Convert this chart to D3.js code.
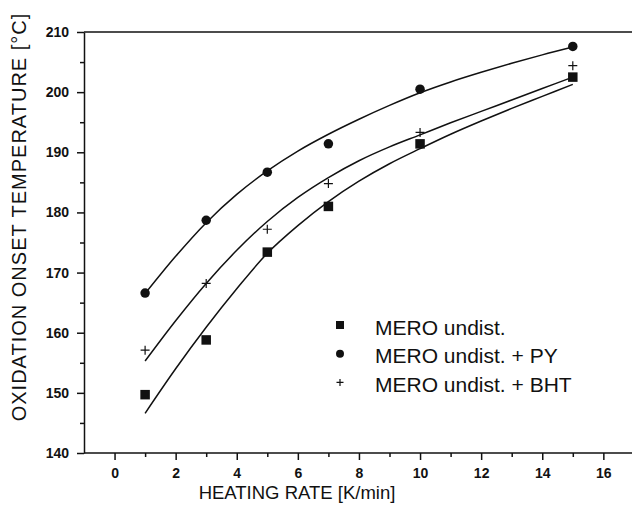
<!DOCTYPE html>
<html>
<head>
<meta charset="utf-8">
<script src="https://cdn.jsdelivr.net/npm/d3@7"></script>
<style>
  body { margin: 0; background: #fff; }
  svg { display: block; font-family: "Liberation Sans", Arial, sans-serif; }
  .axis text { font-size: 14px; font-weight: bold; fill: #111; }
  .axis path, .axis line { stroke: #111; stroke-width: 1.5px; }
</style>
</head>
<body>
<svg id="chart" width="632" height="517"></svg>
<script>
// measured points
var rates = [1, 3, 5, 7, 10, 15];
var meroUndist = [149.7, 158.8, 173.4, 181.0, 191.4, 202.5];
var meroPY = [166.6, 178.7, 186.7, 191.4, 200.5, 207.6];
var meroBHT = [157.1, 168.2, 177.2, 184.8, 193.3, 204.4];

// fitted curves
var fitRates = [1, 2, 3, 4, 5, 6, 7, 8, 9, 10, 11, 12, 13, 14, 15];
var fitUndist = [146.6, 154.0, 160.9, 167.3, 173.2, 177.8, 181.8, 185.2, 188.1, 190.6, 193.0, 195.2, 197.3, 199.3, 201.3];
var fitBHT = [155.3, 162.0, 168.2, 173.7, 178.5, 182.5, 185.8, 188.6, 190.9, 192.9, 194.9, 196.8, 198.7, 200.6, 202.5];
var fitPY = [166.5, 172.7, 178.3, 183.0, 186.9, 190.2, 193.0, 195.5, 197.8, 199.9, 201.7, 203.3, 204.8, 206.2, 207.5];

var xTicks = [0, 2, 4, 6, 8, 10, 12, 14, 16];
var yTicks = [140, 150, 160, 170, 180, 190, 200, 210];
var legendLabels = ["MERO undist.", "MERO undist. + PY", "MERO undist. + BHT"];

var svg = d3.select("#chart");

var x = d3.scaleLinear().domain([-1, 18]).range([84, 84 + 19 * 30.55]);
var y = d3.scaleLinear().domain([140, 210]).range([453, 32]);

var g = svg.append("g");

// top border
g.append("line")
  .attr("x1", x(-1)).attr("x2", 640)
  .attr("y1", y(210)).attr("y2", y(210))
  .attr("stroke", "#111").attr("stroke-width", 1.5);

// minor ticks
g.append("g").attr("class", "axis")
  .attr("transform", "translate(0," + y(140) + ")")
  .call(d3.axisBottom(x).tickValues(d3.range(1, 18, 2)).tickSize(4).tickFormat(""))
  .call(function(s) { s.select(".domain").remove(); });
g.append("g").attr("class", "axis")
  .attr("transform", "translate(" + x(-1) + ",0)")
  .call(d3.axisLeft(y).tickValues(d3.range(145, 210, 10)).tickSize(4).tickFormat(""))
  .call(function(s) { s.select(".domain").remove(); });

// major axes
g.append("g").attr("class", "axis")
  .attr("transform", "translate(0," + y(140) + ")")
  .call(d3.axisBottom(x).tickValues(xTicks).tickSize(7).tickSizeOuter(0).tickPadding(8))
  .call(function(s) { s.select(".domain").attr("d", "M" + x(-1) + ",0H640"); });
g.append("g").attr("class", "axis")
  .attr("transform", "translate(" + x(-1) + ",0)")
  .call(d3.axisLeft(y).tickValues(yTicks).tickSize(7).tickSizeOuter(0).tickPadding(8));

// fitted lines
var line = d3.line()
  .x(function(d) { return x(d[0]); })
  .y(function(d) { return y(d[1]); })
  .curve(d3.curveCatmullRom);

[fitUndist, fitPY, fitBHT].forEach(function(vals) {
  g.append("path")
    .datum(fitRates.map(function(r, i) { return [r, vals[i]]; }))
    .attr("d", line)
    .attr("fill", "none")
    .attr("stroke", "#111")
    .attr("stroke-width", 1.5);
});

// markers
function drawMarker(sel, k, size) {
  if (k == 2) {
    var h = size / 2;
    sel.append("path")
      .attr("d", "M" + (-h) + ",0H" + h + "M0," + (-h) + "V" + h)
      .attr("stroke", "#111").attr("stroke-width", 1.2).attr("fill", "none");
  } else if (k == 0) {
    sel.append("rect").attr("x", -size / 2).attr("y", -size / 2)
      .attr("width", size).attr("height", size).attr("fill", "#111");
  } else {
    sel.append("circle").attr("r", size / 2).attr("fill", "#111");
  }
}

[meroUndist, meroPY, meroBHT].forEach(function(vals, k) {
  g.selectAll(".m" + k)
    .data(rates.map(function(r, i) { return [r, vals[i]]; }))
    .enter().append("g")
      .attr("class", "m" + k)
      .attr("transform", function(d) { return "translate(" + x(d[0]) + "," + y(d[1]) + ")"; })
      .each(function() { drawMarker(d3.select(this), k, k == 2 ? 9 : 9.5); });
});

// legend
var legend = g.selectAll(".legend")
  .data(legendLabels)
  .enter().append("g")
    .attr("class", "legend")
    .attr("transform", function(d, i) { return "translate(340," + (325 + i * 28.7) + ")"; });

legend.each(function(d, i) { drawMarker(d3.select(this), i, i == 2 ? 7 : 8); });

legend.append("text")
  .attr("x", 35)
  .attr("y", 9.5)
  .style("font-size", "21px")
  .style("fill", "#111")
  .text(function(d) { return d; });

// axis titles
svg.append("text")
  .attr("x", 297)
  .attr("y", 499)
  .attr("text-anchor", "middle")
  .style("font-size", "18.5px")
  .style("fill", "#111")
  .text("HEATING RATE [K/min]");

svg.append("text")
  .attr("transform", "translate(26,217) rotate(-90)")
  .attr("text-anchor", "middle")
  .style("font-size", "20px")
  .style("letter-spacing", "1px")
  .style("fill", "#111")
  .text("OXIDATION ONSET TEMPERATURE  [°C]");
</script>
</body>
</html>
